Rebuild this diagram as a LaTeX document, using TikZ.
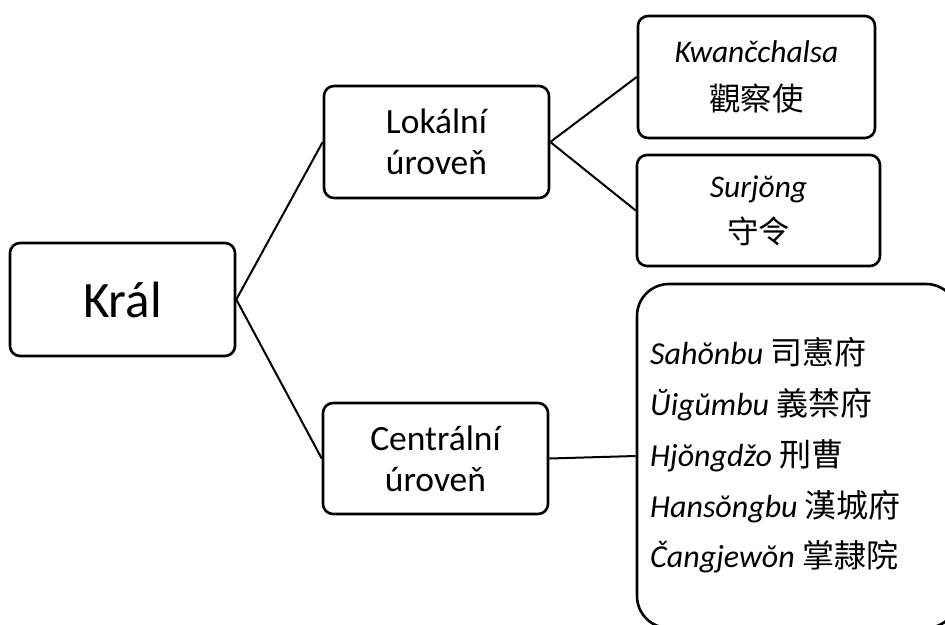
\documentclass[tikz,border=0pt]{standalone}
\usepackage{fontspec}
\setmainfont{Carlito}
\newfontfamily\cjk{Noto Sans CJK TC}
\begin{document}
\begin{tikzpicture}[x=1pt,y=-1pt,
  box/.style={draw=black, line width=2.6pt, rounded corners=10pt, align=center, inner sep=0pt},
  conn/.style={draw=black, line width=2pt}]
\useasboundingbox (0,0) rectangle (945,624);
\clip (0,0) rectangle (945,624);
\node[box, minimum width=225pt, minimum height=113pt, font=\fontsize{51}{56}\selectfont] (kral) at (122.5,299.5) {Král};
\node[box, minimum width=225pt, minimum height=112pt, font=\fontsize{35.5}{41}\selectfont] (lok) at (436.5,142) {Lokální\\úroveň};
\node[box, minimum width=225pt, minimum height=111pt, font=\fontsize{35.5}{41}\selectfont] (cen) at (435.5,458.5) {Centrální\\úroveň};
\node[box, minimum width=237pt, minimum height=122pt, font=\fontsize{31.5}{48}\selectfont] (kwan) at (756.5,77) {\textit{Kwančchalsa}\\{\cjk 觀察使}};
\node[box, minimum width=243pt, minimum height=111pt, font=\fontsize{31.5}{46}\selectfont] (surj) at (758.5,210.5) {\textit{Surjŏng}\\{\cjk 守令}};
\node[box, rounded corners=32pt, minimum width=321pt, minimum height=344pt] (big) at (797.5,456) {};
\node[anchor=west, align=left, inner sep=0pt, font=\fontsize{32}{50.7}\selectfont] (list) at (650,455.5) {%
\textit{Sahŏnbu} {\cjk 司憲府}\\
\textit{Ŭigŭmbu} {\cjk 義禁府}\\
\textit{Hjŏngdžo} {\cjk 刑曹}\\
\textit{Hansŏngbu} {\cjk 漢城府}\\
\textit{Čangjewŏn} {\cjk 掌隷院}};
\draw[conn] (kral.east) -- (lok.west);
\draw[conn] (kral.east) -- (cen.west);
\draw[conn] (lok.east) -- (kwan.west);
\draw[conn] (lok.east) -- (surj.west);
\draw[conn] (cen.east) -- (big.west);
\end{tikzpicture}
\end{document}
